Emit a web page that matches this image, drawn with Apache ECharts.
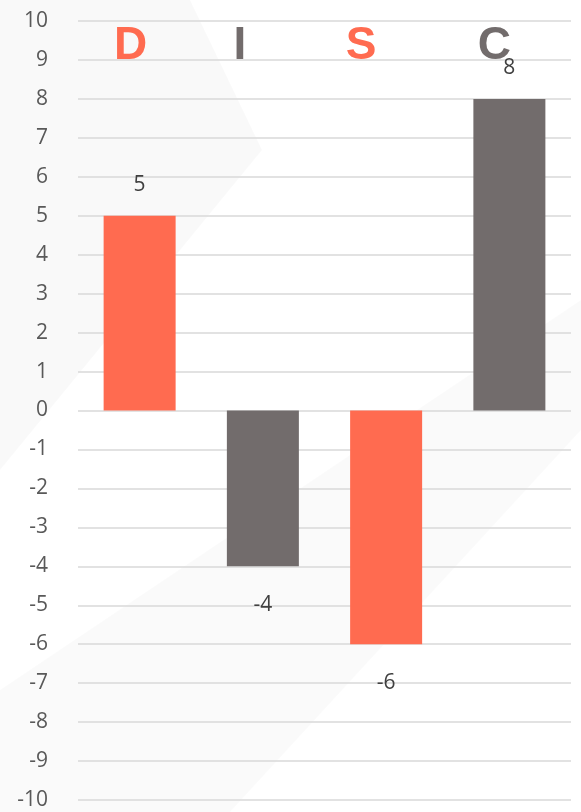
<!DOCTYPE html>
<html>
<head>
<meta charset="utf-8">
<script src="https://cdn.jsdelivr.net/npm/echarts@6/dist/echarts.min.js"></script>
<style>
  html, body { margin: 0; padding: 0; background: #fff; }
  #main { width: 581px; height: 812px; }
</style>
</head>
<body>
<div id="main"></div>
<script>
const categories = ['D', 'I', 'S', 'C']
const values = [5, -4, -6, 8]
const barColors = ['#ff6b50', '#726c6c', '#ff6b50', '#726c6c']
const yTicks = { min: -10, max: 10, interval: 1 }
// 字母标签略偏左于柱子
const labelShift = [18, 46, 50, 30]

const myChart = echarts.init(document.getElementById('main'))

const option = {
  backgroundColor: '#ffffff',
  animation: false,
  // 背景的浅灰色斜纹
  graphic: [
    {
      type: 'polygon',
      z: -10,
      shape: { points: [[0, 0], [190, 0], [262, 150], [0, 470]] },
      style: { fill: 'rgba(0,0,0,0.022)' }
    },
    {
      type: 'polygon',
      z: -10,
      shape: { points: [[0, 690], [0, 812], [230, 812], [581, 430], [581, 300]] },
      style: { fill: 'rgba(0,0,0,0.02)' }
    }
  ],
  grid: {
    left: 78,
    right: 10,
    top: 21,
    bottom: 12
  },
  xAxis: {
    type: 'category',
    position: 'top',
    data: categories.map(function (c, i) {
      return {
        value: c,
        textStyle: { padding: [0, labelShift[i], 0, 0], color: barColors[i] }
      }
    }),
    axisLine: { show: false },
    axisTick: { show: false },
    axisLabel: {
      inside: true,
      margin: 2,
      fontSize: 46,
      fontWeight: 'bold',
      fontFamily: 'Liberation Sans'
    }
  },
  yAxis: {
    type: 'value',
    min: yTicks.min,
    max: yTicks.max,
    interval: yTicks.interval,
    axisLine: { show: false },
    axisTick: { show: false },
    axisLabel: {
      margin: 30,
      fontSize: 21,
      fontFamily: 'Open Sans',
      color: '#595959'
    },
    splitLine: {
      lineStyle: { color: '#d9d9d9', width: 1.5 }
    }
  },
  series: [
    {
      type: 'bar',
      barWidth: 72,
      data: values.map(function (v, i) {
        return {
          value: v,
          itemStyle: { color: barColors[i] },
          label: {
            position: v >= 0 ? 'top' : 'bottom',
            distance: v >= 0 ? 20 : 28
          }
        }
      }),
      label: {
        show: true,
        fontSize: 21,
        fontFamily: 'Open Sans',
        color: '#404040'
      }
    }
  ]
}

myChart.setOption(option)
window.addEventListener('resize', function () {
  myChart.resize()
})
</script>
</body>
</html>
